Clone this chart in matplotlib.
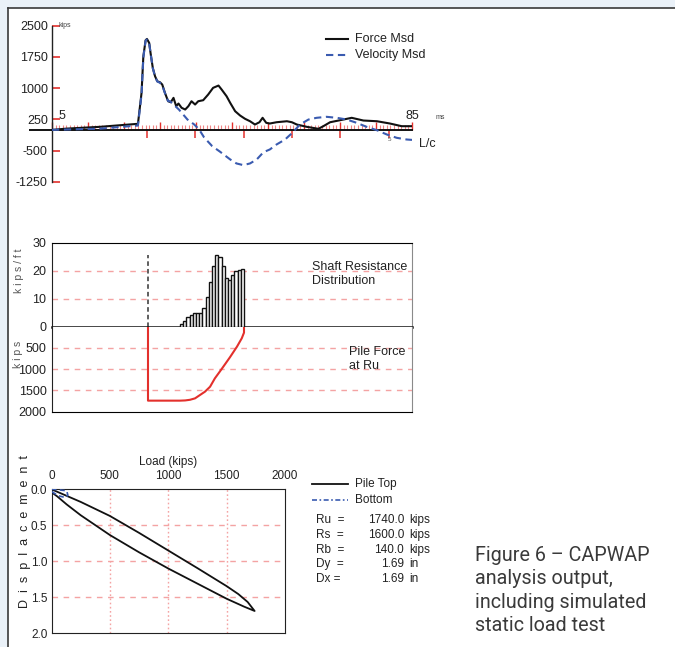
import numpy as np
import matplotlib
matplotlib.use("Agg")
import matplotlib.pyplot as plt
from matplotlib.lines import Line2D
from matplotlib.patches import Rectangle
from matplotlib.ticker import FixedLocator

plt.rcParams['font.family'] = ['Liberation Sans', 'DejaVu Sans']
plt.rcParams['axes.unicode_minus'] = False

W, H = 675, 647

# ---- top chart: measured force / velocity (ms, kips) ----
force_t = [5.0, 8.3, 15.7, 24.1, 24.9, 25.3, 25.8, 26.1, 26.6, 26.9, 27.4, 27.9, 28.4,
           29.0, 29.5, 30.1, 30.8, 31.4, 32.0, 32.6, 33.1, 33.8, 34.6, 35.3, 36.0, 36.8,
           37.5, 38.6, 39.7, 40.8, 42.0, 42.7, 43.8, 44.6, 45.7, 46.8, 47.9, 49.0, 50.1,
           51.1, 51.8, 52.6, 53.4, 54.9, 57.2, 58.3, 59.4, 61.6, 64.2, 65.3, 66.8, 69.0,
           71.6, 74.2, 77.2, 80.1, 82.7, 85.0]
force_kips = [0, 31, 74, 146, 890, 1766, 2150, 2183, 2086, 1846, 1487, 1287, 1167,
              1143, 1088, 889, 688, 664, 769, 568, 633, 530, 489, 568, 688, 609,
              688, 712, 848, 1009, 1064, 968, 807, 649, 448, 345, 266, 208, 129,
              184, 290, 170, 153, 184, 208, 184, 129, 74, 26, 89, 184, 232,
              290, 225, 208, 153, 89, 89]

vel_t = [5.0, 15.7, 24.1, 24.9, 25.3, 25.8, 26.1, 26.6, 26.9, 27.4, 27.9, 28.4, 29.0,
         29.5, 30.1, 30.8, 31.2, 33.2, 35.1, 36.6, 37.7, 38.8, 40.6, 42.3, 44.6, 46.0,
         47.5, 49.0, 50.5, 52.0, 53.4, 54.9, 56.8, 58.4, 60.1, 62.0, 63.8, 66.0, 68.3,
         70.5, 72.7, 74.9, 77.2, 79.4, 81.6, 83.8, 85.0]
vel_kips = [0, 30, 105, 850, 1740, 2140, 2170, 2080, 1840, 1480, 1280, 1160, 1130,
            1070, 880, 690, 690, 489, 249, 130, 10, -180, -390, -520, -709, -805,
            -845, -805, -709, -534, -470, -350, -230, -70, 129, 249, 290, 314, 290,
            249, 170, 74, -7, -110, -190, -230, -240]

lc_ticks = [26.1, 36.8, 47.6, 58.3, 69.1, 79.9]
top_yticks = [2500, 1750, 1000, 250, -500, -1250]

# ---- middle chart: shaft resistance (kips/ft) per segment, pile force (kips) ----
seg_start = list(range(10, 30))
shaft_res = [0.8, 2.2, 3.3, 4.2, 4.8, 5.0, 5.0, 6.6, 10.5, 15.8,
             21.7, 25.5, 25.0, 21.5, 17.5, 16.8, 18.5, 19.8, 20.4, 20.6]
pile_seg = [0, 0, 10, 11.6, 13.1, 14.7, 16.25, 17.8, 19.4, 20.9, 22.5, 24.1, 25.6,
            27.8, 29.3, 30, 30]
pile_force = [0, 1740, 1740, 1735, 1720, 1686, 1607, 1529, 1412, 1215, 1050, 880, 720,
              470, 273, 140, 0]

# ---- bottom chart: simulated static load test (loading then unloading) ----
load_top = [0, 250, 500, 750, 1000, 1250, 1500, 1600, 1680, 1740,
            1650, 1500, 1250, 1000, 750, 500, 250, 130, 50, 0]
disp_top = [0.0, 0.175, 0.37, 0.605, 0.85, 1.095, 1.345, 1.455, 1.565, 1.69,
            1.63, 1.52, 1.31, 1.10, 0.875, 0.635, 0.36, 0.21, 0.10, 0.04]
load_bot = [0, 20, 130, 140, 120, 60, 0]
disp_bot = [0.0, 0.0, 0.02, 0.08, 0.115, 0.09, 0.03]

summary_names = ["Ru  =", "Rs  =", "Rb  =", "Dy  =", "Dx ="]
summary_vals = ["1740.0", "1600.0", "140.0", "1.69", "1.69"]
summary_units = ["kips", "kips", "kips", "in", "in"]

caption = "Figure 6 \u2013 CAPWAP\nanalysis output,\nincluding simulated\nstatic load test"

RED = '#e3302c'
PINK = '#f4a3a3'
BLUE = '#3a5bb0'
TXT = '#222222'


def px_axes(fig, x0, y0, x1, y1):
    return fig.add_axes([x0 / W, 1 - y1 / H, (x1 - x0) / W, (y1 - y0) / H])


def fx(x):
    return x / W


def fy(y):
    return 1 - y / H


fig = plt.figure(figsize=(W / 100, H / 100), dpi=100)
fig.patch.set_facecolor('#eaf1f8')
fig.add_artist(Rectangle((fx(8), 0), 1 - fx(8), fy(8), transform=fig.transFigure,
                         facecolor='white', edgecolor='none', zorder=-5))
fig.add_artist(Line2D([fx(8), fx(8)], [0, fy(8)], color='#3a3a3a', lw=1.2))
fig.add_artist(Line2D([fx(8), 1], [fy(8), fy(8)], color='#3a3a3a', lw=1.2))

# ================= top chart =================
ax1 = px_axes(fig, 52, 25.7, 412, 182)
ax1.set_facecolor('none')
ax1.set_xlim(5, 85)
ax1.set_ylim(-1250, 2500)
for s in ['top', 'right']:
    ax1.spines[s].set_visible(False)
ax1.spines['left'].set_color('#222')
ax1.spines['left'].set_linewidth(1.0)
ax1.spines['bottom'].set_position(('data', 0))
ax1.spines['bottom'].set_color('#111')
ax1.spines['bottom'].set_linewidth(1.4)
ax1.plot([-0.064, 0], [1250 / 3750] * 2, transform=ax1.transAxes, color='#111',
         lw=1.4, clip_on=False, solid_capstyle='butt')

ax1.set_yticks(top_yticks)
ax1.tick_params(axis='y', direction='in', length=6, width=1.2, color=RED,
                labelsize=9, pad=3, labelcolor=TXT)
ax1.xaxis.set_major_locator(FixedLocator(np.arange(5, 85.01, 8)))
ax1.xaxis.set_minor_locator(FixedLocator(np.arange(5, 85.01, 0.8)))
ax1.tick_params(axis='x', which='major', direction='in', length=6, width=1.0,
                color=RED, labelbottom=False)
ax1.tick_params(axis='x', which='minor', direction='in', length=3.5, width=0.8,
                color='#f08686')
ax1.plot(lc_ticks, [0] * len(lc_ticks), linestyle='none', marker=3, markersize=6,
         markeredgewidth=1.1, color=RED, clip_on=False)

ax1.plot(force_t, force_kips, color='#111', lw=1.5, zorder=4)
ax1.plot(vel_t, vel_kips, color=BLUE, lw=1.5, dashes=(3.5, 2.2), zorder=5)

ax1.annotate("5", xy=(5, 0), xytext=(4.5, 6), textcoords='offset points',
             ha='left', va='bottom', fontsize=9, color=TXT)
ax1.annotate("85", xy=(85, 0), xytext=(0, 6), textcoords='offset points',
             ha='center', va='bottom', fontsize=9, color=TXT)
ax1.annotate("ms", xy=(85, 0), xytext=(17, 9), textcoords='offset points',
             ha='left', va='center', fontsize=5, color='#444')
ax1.annotate("L/c", xy=(85, 0), xytext=(5, -10), textcoords='offset points',
             ha='left', va='center', fontsize=9, color=TXT)
ax1.annotate("5", xy=(lc_ticks[-1], 0), xytext=(0, -7), textcoords='offset points',
             ha='center', va='center', fontsize=4.5, color='#555')
ax1.annotate("kips", xy=(5, 2500), xytext=(4.5, 0.5), textcoords='offset points',
             ha='left', va='center', fontsize=5, color='#444')

# legend (top)
fig.add_artist(Line2D([fx(326), fx(348)], [fy(39), fy(39)], color='#111', lw=1.5))
fig.add_artist(Line2D([fx(326), fx(348)], [fy(55), fy(55)], color=BLUE, lw=1.5,
                      dashes=(3.5, 2.2)))
fig.text(fx(355), fy(39), "Force Msd", fontsize=9, color=TXT, va='center', ha='left')
fig.text(fx(355), fy(55), "Velocity Msd", fontsize=9, color=TXT, va='center', ha='left')

# ================= middle chart =================
ax2 = px_axes(fig, 52, 242.7, 412, 326.7)
ax3 = px_axes(fig, 52, 326.7, 412, 411.7)
for a in (ax2, ax3):
    a.set_xlim(-30, 82.5)
    a.set_xticks([])
    a.tick_params(axis='y', length=0, pad=4, labelsize=9, labelcolor=TXT)
    a.spines['left'].set_color('#222')
    a.spines['right'].set_color('#8a8a8a')

ax2.set_ylim(0, 30)
ax2.set_yticks([0, 10, 20, 30])
ax2.spines['bottom'].set_linewidth(1.8)
ax2.spines['bottom'].set_color('#111')
for v in [10, 20]:
    ax2.axhline(v, color=PINK, lw=1.0, dashes=(4, 4), zorder=0)
ax2.bar(seg_start, shaft_res, width=1, align='edge', color='white',
        edgecolor='#111', linewidth=1.0, zorder=3)
ax2.vlines(0, 0, 25.6, colors='#333', linestyles=(0, (3, 2)), lw=1.1)

ax3.set_ylim(2000, 0)
ax3.set_yticks([500, 1000, 1500, 2000])
ax3.spines['top'].set_visible(False)
for v in [500, 1000, 1500]:
    ax3.axhline(v, color=PINK, lw=1.0, dashes=(4, 4), zorder=0)
ax3.plot(pile_seg, pile_force, color=RED, lw=1.5, zorder=3)

fig.text(fx(19), fy(271), "k i p s / f t", rotation=90, fontsize=7.5, color='#555',
         ha='center', va='center')
fig.text(fx(18), fy(354), "k i p s", rotation=90, fontsize=7.5, color='#555',
         ha='center', va='center')
fig.text(fx(312), fy(274), "Shaft Resistance\nDistribution", fontsize=9, color=TXT,
         ha='left', va='center', linespacing=1.25)
fig.text(fx(349), fy(359), "Pile Force\nat Ru", fontsize=9, color=TXT,
         ha='left', va='center', linespacing=1.25)

# ================= bottom chart =================
ax4 = px_axes(fig, 51.5, 489.3, 285, 633.3)
ax4.set_xlim(0, 2000)
ax4.set_ylim(2.0, 0.0)
ax4.xaxis.tick_top()
ax4.xaxis.set_label_position('top')
ax4.set_xticks([0, 500, 1000, 1500, 2000])
ax4.set_yticks([0.0, 0.5, 1.0, 1.5, 2.0])
ax4.set_yticklabels(["0.0", "0.5", "1.0", "1.5", "2.0"])
ax4.tick_params(axis='x', length=0, pad=5, labelsize=8.5, labelcolor=TXT)
ax4.tick_params(axis='y', length=0, pad=3, labelsize=8.5, labelcolor=TXT)
ax4.set_xlabel("Load (kips)", fontsize=8.5, color=TXT, labelpad=4)
for s in ax4.spines.values():
    s.set_color('#222')
for v in [500, 1000, 1500]:
    ax4.axvline(v, color=PINK, lw=1.0, dashes=(1.2, 1.8), zorder=0)
for v in [0.5, 1.0, 1.5]:
    ax4.axhline(v, color=PINK, lw=1.0, dashes=(4, 4), zorder=0)
ax4.plot(load_top, disp_top, color='#111', lw=1.3, zorder=3)
ax4.plot(load_bot, disp_bot, color=BLUE, lw=1.2, dashes=(3, 2), zorder=4)

fig.text(fx(25), fy(532), "D  i  s  p  l  a  c  e  m  e  n  t", rotation=90,
         fontsize=9, color=TXT, ha='center', va='center')

# legend (bottom)
fig.add_artist(Line2D([fx(312), fx(348)], [fy(484), fy(484)], color='#111', lw=1.3))
fig.add_artist(Line2D([fx(312), fx(348)], [fy(500), fy(500)], color=BLUE, lw=1.2,
                      dashes=(3, 1.5, 1, 1.5)))
fig.text(fx(355), fy(484), "Pile Top", fontsize=8.5, color=TXT, va='center', ha='left')
fig.text(fx(355), fy(500), "Bottom", fontsize=8.5, color=TXT, va='center', ha='left')

for i, (n, v, u) in enumerate(zip(summary_names, summary_vals, summary_units)):
    yy = fy(520 + 14.8 * i)
    fig.text(fx(316), yy, n, fontsize=8.5, color=TXT, va='center', ha='left')
    fig.text(fx(404), yy, v, fontsize=8.5, color=TXT, va='center', ha='right')
    fig.text(fx(409), yy, u, fontsize=8.5, color=TXT, va='center', ha='left')

fig.text(fx(475), fy(590.5), caption, fontsize=14.2, color='#3a3a3a',
         family=['Roboto', 'DejaVu Sans'], ha='left', va='center', linespacing=1.28)

fig.savefig("out.png", dpi=100, facecolor=fig.get_facecolor())
